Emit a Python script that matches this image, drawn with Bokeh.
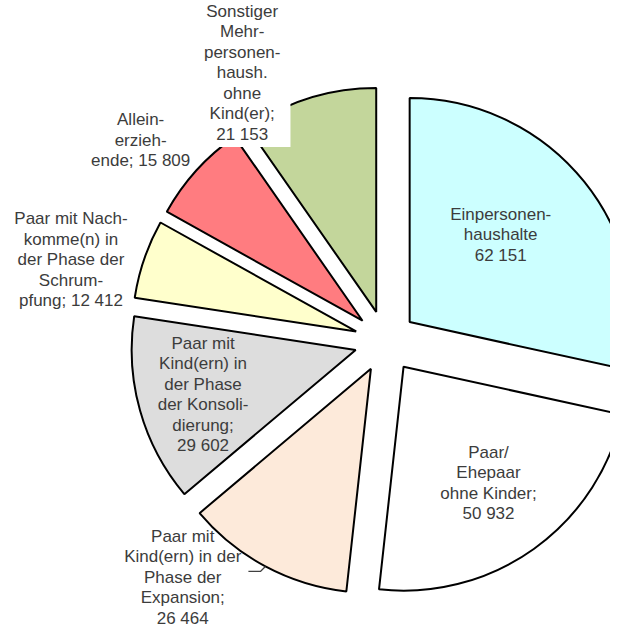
import math
from bokeh.plotting import figure
from bokeh.models import Range1d, ColumnDataSource
from bokeh.core.properties import value
from bokeh.embed import file_html
from bokeh.resources import INLINE

# ---- data ----
categories = [
    "Einpersonenhaushalte",
    "Paar/Ehepaar ohne Kinder",
    "Paar mit Kind(ern) in der Phase der Expansion",
    "Paar mit Kind(ern) in der Phase der Konsolidierung",
    "Paar mit Nachkomme(n) in der Phase der Schrumpfung",
    "Alleinerziehende",
    "Sonstiger Mehrpersonenhaush. ohne Kind(er)",
]
values = [62151, 50932, 26464, 29602, 12412, 15809, 21153]
labels = [
    "Einpersonen-\nhaushalte\n62 151",
    "Paar/\nEhepaar\nohne Kinder;\n50 932",
    "Paar mit\nKind(ern) in der\nPhase der\nExpansion;\n26 464",
    "Paar mit\nKind(ern) in\nder Phase\nder Konsoli-\ndierung;\n29 602",
    "Paar mit Nach-\nkomme(n) in\nder Phase der\nSchrum-\npfung; 12 412",
    "Allein-\nerzieh-\nende; 15 809",
    "Sonstiger\nMehr-\npersonen-\nhaush.\nohne\nKind(er);\n21 153",
]
colors = ["#CCFFFF", "#FFFFFF", "#FDEADA", "#DDDDDD", "#FFFFCC", "#FF7C80", "#C3D69B"]

# ---- layout / style ----
W, H = 610, 628
RADIUS = 224
EXPLODE = 31
# label placement: (angle tweak in degrees, distance from pie centre)
label_place = [(-4, 157), (-0.4, 175), (12.6, 311), (-0.5, 190), (-4.3, 325), (-2.7, 317), (-10.7, 304)]
TEXT_COLOR = "#3c3c3c"
FONT = value("Liberation Sans")
FONT_SIZE = "17px"
LINE_H = 1.08

total = float(sum(values))
starts, ends, bis = [], [], []
cum = 0.0
for v in values:
    a0 = cum / total * 360.0
    cum += v
    a1 = cum / total * 360.0
    starts.append(a0)
    ends.append(a1)
    bis.append((a0 + a1) / 2)

def to_bokeh(deg_cw_from_top):
    return math.radians(90.0 - deg_cw_from_top)

cx = [EXPLODE * math.sin(math.radians(b)) for b in bis]
cy = [EXPLODE * math.cos(math.radians(b)) for b in bis]

src = ColumnDataSource(dict(
    x=cx, y=cy,
    start=[to_bokeh(a) for a in starts],
    end=[to_bokeh(a) for a in ends],
    color=colors, cat=categories,
))

p = figure(width=W, height=H, output_backend="svg", toolbar_location=None,
           x_axis_type=None, y_axis_type=None, min_border=0,
           x_range=Range1d(-385, 225), y_range=Range1d(-287, 341))
p.grid.visible = False
p.outline_line_color = None
p.background_fill_color = "white"

p.wedge(x="x", y="y", radius=RADIUS, start_angle="start", end_angle="end",
        direction="clock", fill_color="color", line_color="black",
        line_width=2, source=src)

# leader line for the expansion slice
i = 2
ax = cx[i] + RADIUS * math.sin(math.radians(bis[i]))
ay = cy[i] + RADIUS * math.cos(math.radians(bis[i]))
p.line([ax, ax - 5, ax - 17], [ay, ay - 5, ay - 5], line_color="#404040", line_width=1.2)

lx, ly = [], []
for (da, r), b in zip(label_place, bis):
    a = math.radians(b + da)
    lx.append(r * math.sin(a))
    ly.append(r * math.cos(a))

normal = [0, 1, 2, 3, 4, 5]
p.text(x=[lx[k] for k in normal], y=[ly[k] for k in normal],
       text=[labels[k] for k in normal], text_align="center", text_baseline="middle",
       text_font=FONT, text_font_size=FONT_SIZE, text_color=TEXT_COLOR, text_line_height=LINE_H)

k = 6
p.text(x=[lx[k]], y=[ly[k]], text=[labels[k]], text_align="center", text_baseline="middle",
       text_font=FONT, text_font_size=FONT_SIZE, text_color=TEXT_COLOR, text_line_height=LINE_H,
       background_fill_color="white", padding=dict(left=10, right=10, top=2, bottom=3))

open("out.html", "w").write(file_html(p, INLINE))
